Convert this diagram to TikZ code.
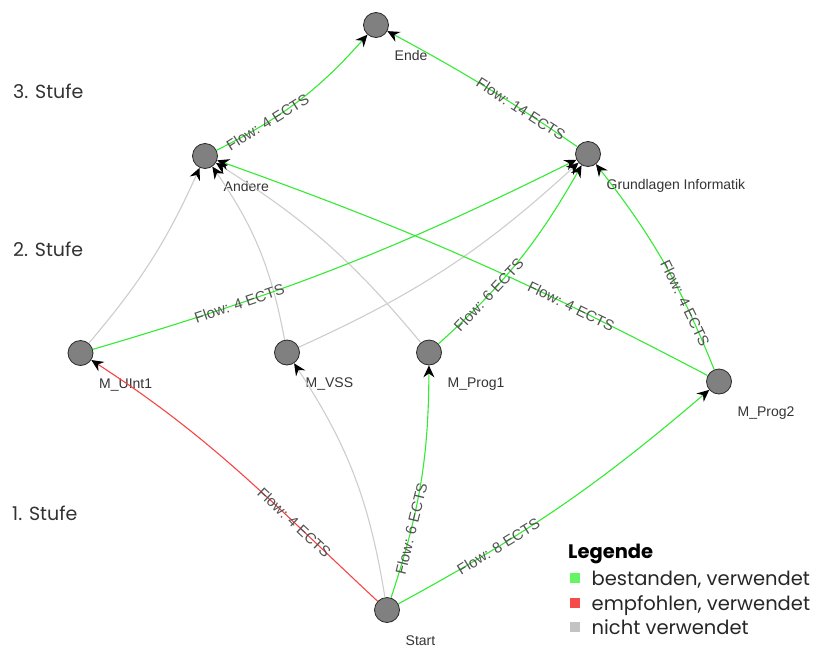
\documentclass[tikz,border=0pt]{standalone}
\usepackage{fontspec}
\setmainfont{Liberation Sans}
\newfontfamily\geofont{Poppins}
\usetikzlibrary{arrows.meta,calc}

\definecolor{passgreen}{RGB}{50,235,50}
\definecolor{advred}{RGB}{245,70,70}
\definecolor{unusedgray}{RGB}{205,205,205}
\definecolor{nodefill}{RGB}{128,128,128}
\definecolor{nodeline}{RGB}{40,40,40}
\definecolor{labeltext}{RGB}{52,52,52}
\definecolor{legpass}{RGB}{100,245,100}
\definecolor{legadv}{RGB}{245,75,75}
\definecolor{legunused}{RGB}{195,195,195}

\begin{document}
\begin{tikzpicture}[x=1pt,y=1pt,
  module/.style={circle, fill=nodefill, draw=nodeline, line width=0.8pt,
    minimum size=25pt, inner sep=0pt},
  modname/.style={anchor=base west, font=\fontsize{14}{16}\selectfont,
    text=labeltext, inner sep=0pt},
  flow/.style={line width=1.1pt,
    -{Stealth[length=12pt,width=11pt,inset=4pt,color=black]}},
  used/.style={flow, draw=passgreen},
  advised/.style={flow, draw=advred},
  unused/.style={flow, draw=unusedgray},
  ects/.style={sloped, pos=0.29, font=\fontsize{15}{17}\selectfont,
    text=labeltext!85, inner sep=1pt},
  tier/.style={anchor=base west, font=\geofont\fontsize{19}{22}\selectfont,
    text=black!80, inner sep=0pt},
  legtitle/.style={anchor=base west, font=\geofont\bfseries\fontsize{19.5}{22}\selectfont,
    text=black, inner sep=0pt},
  legtext/.style={anchor=base west, font=\geofont\fontsize{19.5}{22}\selectfont,
    text=black!85, inner sep=0pt},
  legsq/.style={rectangle, minimum size=10pt, inner sep=0pt}
]
\useasboundingbox (0,0) rectangle (821,-648);

% tiers
\node[tier] (tier3) at (13,-98.5) {3. Stufe};
\node[tier] (tier2) at (13,-256) {2. Stufe};
\node[tier] (tier1) at (12,-520) {1. Stufe};

% modules
\node[module] (ende)   at (376,-25)   {};
\node[module] (andere) at (205,-156)  {};
\node[module] (grund)  at (588,-154)  {};
\node[module] (uint)   at (80.5,-353) {};
\node[module] (vss)    at (287,-352.5){};
\node[module] (prog1)  at (429,-352.5){};
\node[module] (prog2)  at (719,-381.5){};
\node[module] (start)  at (387,-610)  {};

\node[modname] (n-ende)   at ($(ende)+(18.5,-35)$)   {Ende};
\node[modname] (n-andere) at ($(andere)+(18.5,-35)$) {Andere};
\node[modname] (n-grund)  at ($(grund)+(18.5,-35)$)  {Grundlagen Informatik};
\node[modname] (n-uint)   at ($(uint)+(18.5,-35)$)   {M\_UInt1};
\node[modname] (n-vss)    at ($(vss)+(18.5,-35)$)    {M\_VSS};
\node[modname] (n-prog1)  at ($(prog1)+(18.5,-35)$)  {M\_Prog1};
\node[modname] (n-prog2)  at ($(prog2)+(18.5,-35)$)  {M\_Prog2};
\node[modname] (n-start)  at ($(start)+(18.5,-35)$)  {Start};

% flows
\draw[unused] (uint)  to[bend right=8]  (andere);
\draw[unused] (vss)   to[bend right=12] (andere);
\draw[unused] (prog1) to[bend right=9]  (andere);
\draw[unused] (vss)   to[bend right=9]  (grund);
\draw[unused] (start) to[bend right=12] (vss);

\draw[used] (andere) to[bend right=11] node[ects] {Flow: 4 ECTS} (ende);
\draw[used] (grund)  to[bend right=3]  node[ects] {Flow: 14 ECTS} (ende);
\draw[used] (prog2)  to[bend right=4]  node[ects, pos=0.27] {Flow: 4 ECTS} (andere);
\draw[used] (uint)   to[bend right=5]  node[ects, pos=0.28] {Flow: 4 ECTS} (grund);
\draw[used] (prog1)  to[bend right=9]  node[ects] {Flow: 6 ECTS} (grund);
\draw[used] (prog2)  to[bend right=8]  node[ects] {Flow: 4 ECTS} (grund);
\draw[advised] (start) to[out=137,in=-33] node[ects] {Flow: 4 ECTS} (uint);
\draw[used] (start)  to[bend right=9]  node[ects] {Flow: 6 ECTS} (prog1);
\draw[used] (start)  to[bend right=6]  node[ects] {Flow: 8 ECTS} (prog2);

% legend
\node[legtitle] (legend) at (568,-558) {Legende};
\node[legsq, fill=legpass]   (sq-pass)   at (575,-578)   {};
\node[legsq, fill=legadv]    (sq-adv)    at (575,-602.5) {};
\node[legsq, fill=legunused] (sq-unused) at (575,-627)   {};
\node[legtext] (t-pass)   at (591.5,-585.5) {bestanden, verwendet};
\node[legtext] (t-adv)    at (591.5,-610)   {empfohlen, verwendet};
\node[legtext] (t-unused) at (591.5,-634.5) {nicht verwendet};
\end{tikzpicture}
\end{document}
